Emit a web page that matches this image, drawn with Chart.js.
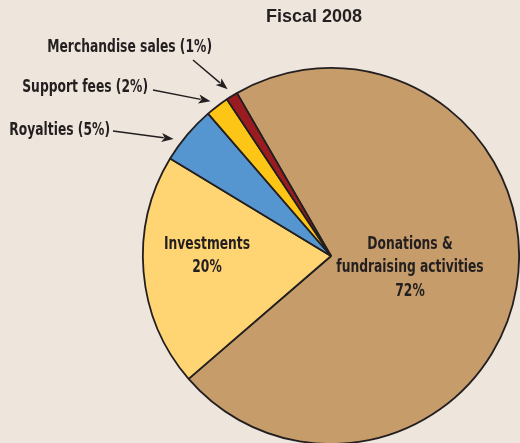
<!DOCTYPE html>
<html>
<head>
<meta charset="utf-8">
<script src="https://cdn.jsdelivr.net/npm/chart.js@4.4.0/dist/chart.umd.min.js"></script>
<style>
  html, body { margin: 0; padding: 0; background: #eee5dc; overflow: hidden; }
  #wrap { position: relative; width: 520px; height: 447px; }
</style>
</head>
<body>
<div id="wrap"><canvas id="c" width="520" height="447"></canvas></div>
<script>
const title = "Fiscal 2008";
const categories = ["Donations & fundraising activities", "Investments", "Royalties", "Support fees", "Merchandise sales"];
const values = [72, 20, 5, 2, 1];
const colors = ["#c69c6b", "#fed572", "#5595d0", "#fdc516", "#9b1c20"];

const FONT = '"DejaVu Sans Condensed", "Liberation Sans Narrow", sans-serif';
const INK = '#231f20';
const SX = 0.76; // horizontal condensing of label text

// inside labels: [dataIndex, lines, dx, dy-of-first-line from center]
const insideLabels = [
  [0, ["Donations &", "fundraising activities", values[0] + "%"], 79, -12],
  [1, ["Investments", values[1] + "%"], -124, -12]
];
// outside labels: [dataIndex, text, textRightX, textY, tailX, tailY, angleFrac]
const outsideLabels = [
  [4, "Merchandise sales (" + values[4] + "%)", 212, 47, 193, 60, 0.5],
  [3, "Support fees (" + values[3] + "%)", 148, 87, 153, 90, 0.4],
  [2, "Royalties (" + values[2] + "%)", 110, 130, 113, 131, 0.3]
];

function txt(ctx, t, x, y) {
  ctx.save();
  ctx.translate(x, y);
  ctx.scale(SX, 1);
  ctx.fillText(t, 0, 0);
  ctx.restore();
}

const labelPlugin = {
  id: 'labels',
  afterDraw(chart) {
    const ctx = chart.ctx;
    const arcs = chart.getDatasetMeta(0).data;
    ctx.save();
    ctx.fillStyle = INK;
    // title
    ctx.font = 'bold 18px "Liberation Sans", Arial, sans-serif';
    ctx.textAlign = 'center';
    ctx.textBaseline = 'middle';
    ctx.fillText(title, 314, 17);

    ctx.font = 'bold 18px ' + FONT;
    insideLabels.forEach(([i, lines, dx, dy]) => {
      const a = arcs[i];
      lines.forEach((t, k) => txt(ctx, t, a.x + dx, a.y + dy + k * 23.5));
    });

    ctx.textAlign = 'right';
    outsideLabels.forEach(([i, text, tx, ty, sx, sy, f]) => {
      const a = arcs[i];
      ctx.fillStyle = INK;
      txt(ctx, text, tx, ty);
      const ang = a.startAngle + (a.endAngle - a.startAngle) * f;
      const r = a.outerRadius + 8;
      const ex = a.x + r * Math.cos(ang), ey = a.y + r * Math.sin(ang);
      const th = Math.atan2(ey - sy, ex - sx);
      const hl = 12, hw = 4.5;
      const bx = ex - hl * Math.cos(th), by = ey - hl * Math.sin(th);
      ctx.strokeStyle = INK;
      ctx.lineWidth = 1.5;
      ctx.beginPath();
      ctx.moveTo(sx, sy);
      ctx.lineTo(bx + 2 * Math.cos(th), by + 2 * Math.sin(th));
      ctx.stroke();
      ctx.beginPath();
      ctx.moveTo(ex, ey);
      ctx.lineTo(bx + hw * Math.sin(th), by - hw * Math.cos(th));
      ctx.lineTo(ex - (hl - 3) * Math.cos(th), ey - (hl - 3) * Math.sin(th));
      ctx.lineTo(bx - hw * Math.sin(th), by + hw * Math.cos(th));
      ctx.closePath();
      ctx.fill();
    });
    ctx.restore();
  }
};

new Chart(document.getElementById('c'), {
  type: 'pie',
  data: {
    labels: categories,
    datasets: [{
      data: values,
      backgroundColor: colors,
      borderColor: INK,
      borderWidth: 1.8
    }]
  },
  options: {
    responsive: false,
    animation: false,
    rotation: -30,
    layout: { padding: { left: 142, top: 67, right: 0, bottom: 2 } },
    plugins: { legend: { display: false }, tooltip: { enabled: false }, title: { display: false } }
  },
  plugins: [labelPlugin]
});
</script>
</body>
</html>
